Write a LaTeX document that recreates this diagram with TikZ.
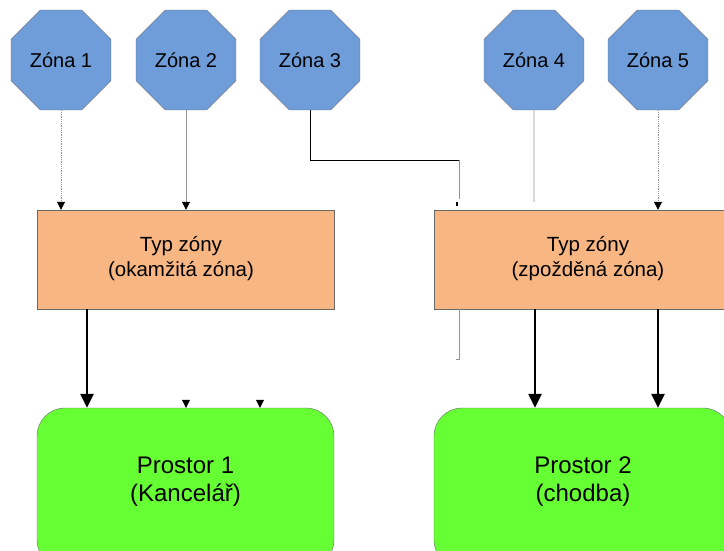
\documentclass[tikz,border=0pt]{standalone}
\usepackage{fontspec}
\setmainfont{Liberation Sans}
\usetikzlibrary{shapes.geometric,arrows.meta}
\definecolor{zonablue}{HTML}{6E9DDA}
\definecolor{typorange}{HTML}{F7B682}
\definecolor{prostorgreen}{HTML}{66FF33}
\definecolor{okraj}{HTML}{6A6A6A}

\begin{document}
\begin{tikzpicture}[x=1pt,y=-1pt,
  zona/.style={regular polygon,regular polygon sides=8,minimum size=108.2pt,inner sep=0pt,
    draw=okraj,fill=zonablue,font=\fontsize{20}{24}\selectfont},
  typbox/.style={rectangle,draw=okraj,fill=typorange,minimum height=99pt,inner sep=0pt},
  typtext/.style={align=center,inner sep=0pt,font=\fontsize{20.5}{25}\selectfont},
  prostorbox/.style={rectangle,rounded corners=28pt,draw=okraj,fill=prostorgreen,
    minimum width=297pt,minimum height=160pt,inner sep=0pt},
  prostortext/.style={align=center,inner sep=0pt,font=\fontsize{24}{28}\selectfont},
  tenka/.style={draw=gray!85,line width=0.8pt,-{Triangle[color=black,length=8pt,width=8pt]}},
  tlusta/.style={line width=2.4pt,-{Triangle[length=14pt,width=13pt]}}]
\useasboundingbox (0,0) rectangle (724,550);
\clip (0,0) rectangle (724,550);

% zones at the top
\node[zona] (z1) at (61,60) {Zóna 1};
\node[zona] (z2) at (186,60) {Zóna 2};
\node[zona] (z3) at (310,60) {Zóna 3};
\node[zona] (z4) at (534,60) {Zóna 4};
\node[zona] (z5) at (658,60) {Zóna 5};

% zone types
\node[typbox,minimum width=297pt] (typ1) at (185.5,259.5) {};
\node[typbox,minimum width=308pt] (typ2) at (588,259.5) {};
\node[typtext] (typ1t) at (181,259) {Typ zóny\\(okamžitá zóna)};
\node[typtext] (typ2t) at (588,259) {Typ zóny\\(zpožděná zóna)};

% rooms, cut off by the page border
\node[prostorbox] (pr1) at (185.5,488) {};
\node[prostorbox] (pr2) at (582.5,488) {};
\node[prostortext] (pr1t) at (185.5,482) {Prostor 1\\(Kancelář)};
\node[prostortext] (pr2t) at (583,482) {Prostor 2\\(chodba)};

% helper points
\coordinate (ohyb) at (459,160);
\coordinate (z3end) at (459,199);
\coordinate (z4end) at (534,202);
\coordinate (stub) at (459,359);
\coordinate (s1) at (87,0);
\coordinate (s2) at (535,0);
\coordinate (s3) at (658,0);
\coordinate (h1) at (186,0);
\coordinate (h2) at (260,0);

% zones -> zone types
\draw[tenka,densely dotted] (z1.south) -- (z1.south |- typ1.north);
\draw[tenka] (z2.south) -- (z2.south |- typ1.north);
\draw[draw=black,line width=1pt] (z3.south) |- (ohyb);
\draw[draw=gray!85,line width=1pt] (ohyb) -- (z3end);
\draw[line width=1.2pt] (z3end) ++(-2,3) -- ++(0,4);
\draw[draw=gray!85,line width=0.8pt] (z4.south) -- (z4end);
\draw[tenka,densely dotted] (z5.south) -- (z5.south |- typ2.north);

% loose stub under the second type
\draw[draw=gray!85,line width=1pt] (stub |- typ2.south) -- (stub) -- ++(-3,0);

% zone types -> rooms
\draw[tlusta] (s1 |- typ1.south) -- (s1 |- pr1.north);
\draw[tlusta] (s2 |- typ2.south) -- (s2 |- pr2.north);
\draw[tlusta] (s3 |- typ2.south) -- (s3 |- pr2.north);

% lone arrow heads on the first room
\draw[-{Triangle[length=8pt,width=8pt]}] (h1 |- pr1.north) ++(0,-8) -- (h1 |- pr1.north);
\draw[-{Triangle[length=8pt,width=8pt]}] (h2 |- pr1.north) ++(0,-8) -- (h2 |- pr1.north);
\end{tikzpicture}
\end{document}
